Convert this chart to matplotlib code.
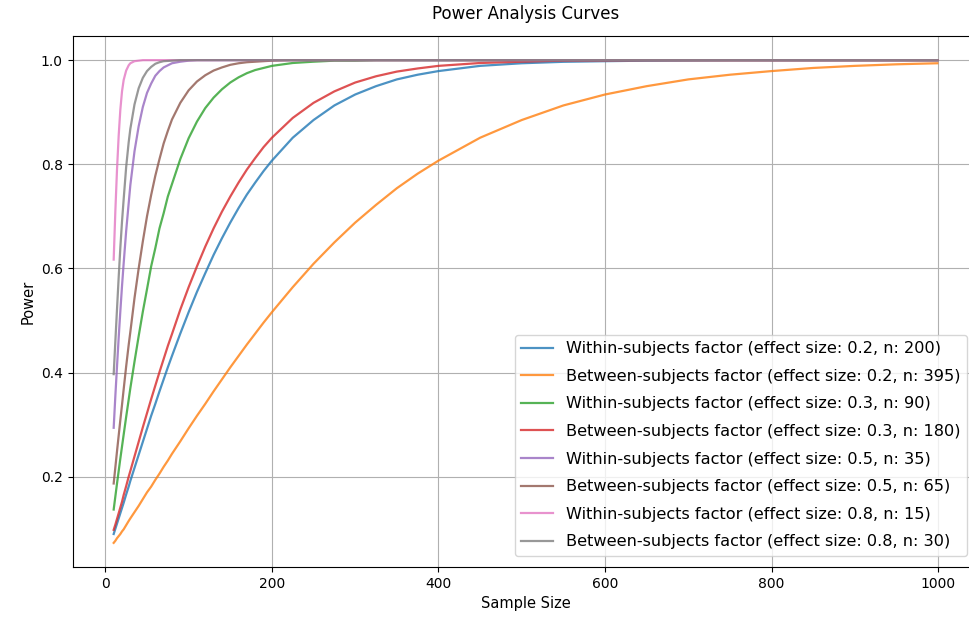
import matplotlib
matplotlib.use("Agg")
import matplotlib.pyplot as plt

sample_size = [10, 12, 14, 16, 18, 20, 22, 25, 28, 30, 35, 40, 45, 50, 55, 60, 65, 70,
               75, 80, 90, 100, 110, 120, 130, 140, 150, 160, 170, 180, 190, 200, 225,
               250, 275, 300, 325, 350, 375, 400, 450, 500, 550, 600, 650, 700, 750,
               800, 850, 900, 950, 999]

within_02 = [0.090, 0.100, 0.110, 0.120, 0.130, 0.140, 0.150, 0.166, 0.181, 0.192, 0.217,
             0.242, 0.267, 0.292, 0.317, 0.340, 0.364, 0.387, 0.410, 0.432, 0.475, 0.516,
             0.555, 0.591, 0.626, 0.658, 0.688, 0.716, 0.742, 0.765, 0.787, 0.807, 0.851,
             0.885, 0.913, 0.934, 0.950, 0.963, 0.972, 0.979, 0.989, 0.994, 0.9968, 0.998,
             0.999, 0.9995, 1.0, 1.0, 1.0, 1.0, 1.0, 1.0]
between_02 = [0.073, 0.077, 0.082, 0.086, 0.090, 0.095, 0.099, 0.107, 0.115, 0.120, 0.132,
              0.144, 0.157, 0.170, 0.181, 0.194, 0.206, 0.219, 0.231, 0.244, 0.268, 0.293,
              0.317, 0.340, 0.364, 0.387, 0.410, 0.432, 0.454, 0.475, 0.496, 0.516, 0.564,
              0.609, 0.650, 0.688, 0.722, 0.754, 0.782, 0.807, 0.851, 0.885, 0.913, 0.934,
              0.950, 0.963, 0.972, 0.979, 0.985, 0.989, 0.992, 0.994]
within_03 = [0.137, 0.162, 0.187, 0.211, 0.235, 0.258, 0.281, 0.315, 0.348, 0.370, 0.421,
             0.470, 0.517, 0.560, 0.604, 0.639, 0.677, 0.706, 0.738, 0.762, 0.810, 0.850,
             0.882, 0.908, 0.928, 0.944, 0.957, 0.967, 0.975, 0.981, 0.985, 0.989, 0.9945,
             0.997, 0.999, 0.999, 1.0, 1.0, 1.0, 1.0, 1.0, 1.0, 1.0, 1.0, 1.0, 1.0, 1.0,
             1.0, 1.0, 1.0, 1.0, 1.0]
between_03 = [0.098, 0.108, 0.119, 0.130, 0.141, 0.152, 0.165, 0.182, 0.200, 0.211, 0.239,
              0.267, 0.295, 0.322, 0.349, 0.375, 0.401, 0.426, 0.451, 0.474, 0.521, 0.564,
              0.604, 0.642, 0.677, 0.709, 0.738, 0.765, 0.790, 0.812, 0.833, 0.851, 0.889,
              0.918, 0.940, 0.957, 0.969, 0.978, 0.984, 0.989, 0.9945, 0.997, 0.9991,
              0.9995, 1.0, 1.0, 1.0, 1.0, 1.0, 1.0, 1.0, 1.0]
within_05 = [0.294, 0.355, 0.412, 0.467, 0.518, 0.566, 0.610, 0.672, 0.725, 0.760, 0.825,
             0.873, 0.910, 0.937, 0.955, 0.970, 0.979, 0.986, 0.990, 0.994, 0.997, 0.999,
             1.0, 1.0, 1.0, 1.0, 1.0, 1.0, 1.0, 1.0, 1.0, 1.0, 1.0, 1.0, 1.0, 1.0, 1.0,
             1.0, 1.0, 1.0, 1.0, 1.0, 1.0, 1.0, 1.0, 1.0, 1.0, 1.0, 1.0, 1.0, 1.0, 1.0]
between_05 = [0.187, 0.218, 0.249, 0.279, 0.309, 0.338, 0.368, 0.412, 0.453, 0.478, 0.543,
              0.600, 0.652, 0.700, 0.741, 0.778, 0.810, 0.840, 0.864, 0.886, 0.918, 0.942,
              0.959, 0.971, 0.980, 0.986, 0.991, 0.994, 0.996, 0.997, 0.998, 0.999, 1.0,
              1.0, 1.0, 1.0, 1.0, 1.0, 1.0, 1.0, 1.0, 1.0, 1.0, 1.0, 1.0, 1.0, 1.0, 1.0,
              1.0, 1.0, 1.0, 1.0]
within_08 = [0.617, 0.710, 0.790, 0.855, 0.905, 0.940, 0.962, 0.980, 0.990, 0.994, 0.998,
             0.999, 1.0, 1.0, 1.0, 1.0, 1.0, 1.0, 1.0, 1.0, 1.0, 1.0, 1.0, 1.0, 1.0, 1.0,
             1.0, 1.0, 1.0, 1.0, 1.0, 1.0, 1.0, 1.0, 1.0, 1.0, 1.0, 1.0, 1.0, 1.0, 1.0,
             1.0, 1.0, 1.0, 1.0, 1.0, 1.0, 1.0, 1.0, 1.0, 1.0, 1.0]
between_08 = [0.397, 0.460, 0.522, 0.583, 0.640, 0.690, 0.733, 0.795, 0.842, 0.868, 0.915,
              0.946, 0.966, 0.979, 0.987, 0.993, 0.996, 0.998, 0.9985, 0.999, 1.0, 1.0,
              1.0, 1.0, 1.0, 1.0, 1.0, 1.0, 1.0, 1.0, 1.0, 1.0, 1.0, 1.0, 1.0, 1.0, 1.0,
              1.0, 1.0, 1.0, 1.0, 1.0, 1.0, 1.0, 1.0, 1.0, 1.0, 1.0, 1.0, 1.0, 1.0, 1.0]

labels = [
    "Within-subjects factor (effect size: 0.2, n: 200)",
    "Between-subjects factor (effect size: 0.2, n: 395)",
    "Within-subjects factor (effect size: 0.3, n: 90)",
    "Between-subjects factor (effect size: 0.3, n: 180)",
    "Within-subjects factor (effect size: 0.5, n: 35)",
    "Between-subjects factor (effect size: 0.5, n: 65)",
    "Within-subjects factor (effect size: 0.8, n: 15)",
    "Between-subjects factor (effect size: 0.8, n: 30)",
]
series = [within_02, between_02, within_03, between_03,
          within_05, between_05, within_08, between_08]

fig = plt.figure(figsize=(9.69, 6.19), dpi=100)
ax = fig.add_axes([72.5 / 969, 52 / 619, 906 / 969, 531 / 619])

for vals, lab in zip(series, labels):
    ax.plot(sample_size, vals, label=lab, linewidth=1.6, alpha=0.8)

ax.set_title("Power Analysis Curves", fontsize=12, pad=12)
ax.set_xlabel("Sample Size", fontsize=10.5)
ax.set_ylabel("Power", fontsize=10.5)
ax.grid(True)
ax.legend(loc="lower right", fontsize=11.6, labelspacing=0.78,
          borderaxespad=0.7)

fig.savefig("out.png", dpi=100)
